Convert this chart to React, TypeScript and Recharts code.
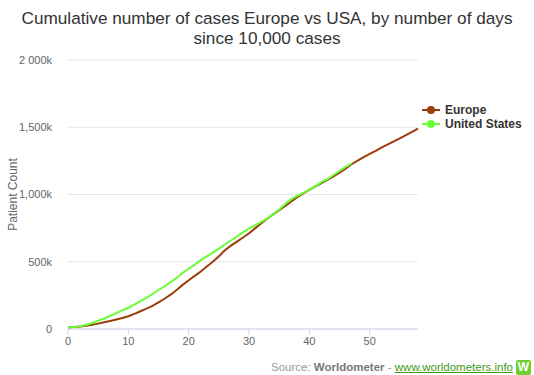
import { CartesianGrid, Line, LineChart, XAxis, YAxis } from "recharts"

// cumulative cases, thousands
const europe = [
  10, 14, 18, 24, 31, 40, 50, 60, 70, 82, 95, 112, 132, 152, 172, 198, 225, 255, 290, 328,
  362, 395, 428, 465, 500, 540, 585, 620, 650, 680, 712, 748, 785, 820, 852, 884, 915, 948, 980, 1008,
  1035, 1060, 1085, 1108, 1135, 1162, 1192, 1225, 1252, 1278, 1302, 1325, 1350, 1372, 1395, 1418, 1442, 1466, 1490,
]
const usa = [
  10, 14, 20, 30, 45, 62, 78, 98, 118, 138, 158, 182, 208, 232, 260, 290, 318, 348, 380, 418,
  448, 478, 512, 540, 568, 598, 628, 658, 688, 718, 748, 770, 795, 822, 852, 888, 930, 965, 990, 1012,
  1035, 1062, 1092, 1115, 1145, 1175, 1205, 1232,
]
const xTicks = [0, 10, 20, 30, 40, 50]
const yTicks = [0, 500000, 1000000, 1500000, 2000000]
const yLabels = ["0", "500k", "1,000k", "1,500k", "2 000k"]

const series = [
  { key: "europe", name: "Europe", color: "#9a3d0a" },
  { key: "usa", name: "United States", color: "#66ff33" },
]

const data = europe.map((v, i) => ({
  day: i,
  europe: v * 1000,
  usa: i < usa.length ? usa[i] * 1000 : null,
}))

const font = "'Liberation Sans', Arial, sans-serif"

function LegendBox() {
  return (
    <div style={{ position: "absolute", left: 422, top: 103, fontFamily: font, fontSize: 12, fontWeight: "bold", color: "#333" }}>
      {series.map((s) => (
        <div key={s.key} style={{ display: "flex", alignItems: "center", height: 14 }}>
          <svg width={18} height={10} style={{ marginRight: 5 }}>
            <line x1={0} y1={5} x2={18} y2={5} stroke={s.color} strokeWidth={2} />
            <circle cx={9} cy={5} r={4} fill={s.color} />
          </svg>
          {s.name}
        </div>
      ))}
    </div>
  )
}

export default function App() {
  return (
    <div style={{ position: "absolute", left: 0, top: 0, width: 534, height: 375, background: "#fff", fontFamily: font }}>
      <div style={{ position: "absolute", left: 0, top: 8, width: 534, textAlign: "center", fontSize: 17.2, lineHeight: "20px", color: "#333" }}>
        Cumulative number of cases Europe vs USA, by number of days
        <br />
        since 10,000 cases
      </div>
      <LineChart width={534} height={375} data={data} margin={{ top: 60, right: 116, bottom: 26, left: 0 }}>
        <CartesianGrid vertical={false} stroke="#e6e6e6" />
        <XAxis
          dataKey="day"
          type="number"
          domain={[0, 58]}
          ticks={xTicks}
          height={20}
          stroke="#ccd6eb"
          tick={{ fill: "#666", fontSize: 11, fontFamily: font }}
          tickSize={6}
          tickMargin={2}
        />
        <YAxis
          width={68}
          domain={[0, 2000000]}
          ticks={yTicks}
          axisLine={false}
          tickLine={false}
          tickMargin={10}
          tick={{ fill: "#666", fontSize: 11, fontFamily: font }}
          tickFormatter={(v) => yLabels[yTicks.indexOf(v)]}
          label={{ value: "Patient Count", angle: -90, position: "insideLeft", offset: 13, style: { fill: "#666", fontSize: 12, fontFamily: font, textAnchor: "middle" } }}
        />
        {series.map((s) => (
          <Line
            key={s.key}
            dataKey={s.key}
            name={s.name}
            stroke={s.color}
            strokeWidth={2}
            dot={false}
            type="linear"
            connectNulls={false}
            isAnimationActive={false}
          />
        ))}
      </LineChart>
      <LegendBox />
      <div style={{ position: "absolute", right: 21, top: 361, fontSize: 11.5, color: "#999", whiteSpace: "nowrap" }}>
        Source: <b style={{ color: "#777" }}>Worldometer</b> - <span style={{ color: "#3f9a1c", textDecoration: "underline" }}>www.worldometers.info</span>
      </div>
      <div style={{ position: "absolute", left: 516, top: 360, width: 15, height: 15, background: "#6fcf2f", borderRadius: 2, color: "#fff", fontSize: 12, fontWeight: "bold", lineHeight: "15px", textAlign: "center" }}>
        W
      </div>
    </div>
  )
}
